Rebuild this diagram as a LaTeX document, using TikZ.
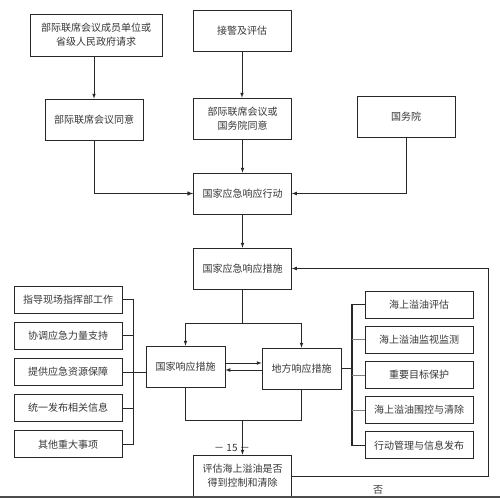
\documentclass[tikz,border=0pt]{standalone}
\usepackage{fontspec}
\usepackage{tikz}
\usetikzlibrary{positioning}
\newfontfamily\cjk{Noto Sans CJK SC}
\definecolor{myline}{RGB}{40,40,40}
\definecolor{mytext}{RGB}{55,55,55}

\begin{document}
\begin{tikzpicture}[x=1pt, y=-1pt, >=latex, line width=0.7pt, draw=myline,
    every node/.style={font=\cjk\fontsize{10}{14}\selectfont, text=mytext},
    box/.style={draw=myline, inner sep=0pt, align=center, minimum width=98pt, minimum height=41pt},
    item/.style={draw=myline, inner sep=0pt, minimum width=108pt, minimum height=27pt}]
    \useasboundingbox (0,0) rectangle (500,498);

    \node[box, minimum width=132pt, minimum height=42pt] (A) at (96,35) {部际联席会议成员单位或\\省级人民政府请求};
    \node[box] (B) at (242,30.5) {接警及评估};
    \node[box] (C) at (94,119.5) {部际联席会议同意};
    \node[box] (D) at (242.5,118.5) {部际联席会议或\\国务院同意};
    \node[box] (E) at (406,116.5) {国务院};
    \node[box] (F) at (242.5,193.5) {国家应急响应行动};
    \node[box] (G) at (242.5,268.5) {国家应急响应措施};
    \node[box, minimum width=79pt] (H) at (185.5,366.5) {国家响应措施};
    \node[box, minimum width=79pt] (I) at (301.5,368.5) {地方响应措施};
    \node[box, minimum height=42pt] (J) at (242.5,476) {评估海上溢油是否\\得到控制和清除};

    % national measures
    \node[item] (l1) at (68,299.5) {指导现场指挥部工作};
    \node[item, below=8.5pt of l1] (l2) {协调应急力量支持};
    \node[item, below=8.5pt of l2] (l3) {提供应急资源保障};
    \node[item, below=8.5pt of l3] (l4) {统一发布相关信息};
    \node[item, below=8.5pt of l4] (l5) {其他重大事项};

    % local measures
    \node[item] (r1) at (419,304.5) {海上溢油评估};
    \node[item, below=7.5pt of r1] (r2) {海上溢油监视监测};
    \node[item, below=7.5pt of r2] (r3) {重要目标保护};
    \node[item, below=7.5pt of r3] (r4) {海上溢油围控与清除};
    \node[item, below=7.5pt of r4] (r5) {行动管理与信息发布};

    \node (pg) at (232,448) {－ 15 －};
    \node (no) at (378,490) {否};

    \coordinate (lb) at (133,0);
    \coordinate (rb) at (352,0);
    \coordinate (gs) at (242.5,323);
    \coordinate (m) at (242.5,420);
    \coordinate (fb) at (488,0);

    \draw[->] (A.south -| C.north) -- (C.north);
    \draw[->] (B.south) -- (B.south |- D.north);
    \draw[->] (D.south) -- (F.north);
    \draw[->, line width=1pt] (C.south) |- (F.west);
    \draw[->] (E.south) |- (F.east);
    \draw[->] (F.south) -- (G.north);

    \draw (G.south) -- (gs);
    \draw[->] (gs) -| (H.north);
    \draw[->] (gs) -| (I.north);
    \draw[->] (H.east |- 0,363) -- (I.west |- 0,363);
    \draw[->] (I.west |- 0,370) -- (H.east |- 0,370);

    \draw (H.south) -- (H.south |- m) -- (I.south |- m) -- (I.south);
    \draw[->] (m) -- (J.north);
    \draw[->] (J.east) -| (fb |- G.east) -- (G.east);

    % brackets
    \draw (l1.east) -| (lb |- l5.east) -- (l5.east);
    \foreach \i in {2,3,4}
        \draw (l\i.east) -- (lb |- l\i.east);
    \draw (lb |- l3.east) -- (H.west |- l3.east);

    \draw[line width=1.2pt] (r1.west) -| (rb |- r5.west) -- (r5.west);
    \foreach \i in {2,3,4}
        \draw[gray] (r\i.west) -- (rb |- r\i.west);
    \draw (I.east) -- (rb |- I.east);

    \draw[line width=1.5pt, gray!60!black] (0,497) -- (500,497);
\end{tikzpicture}
\end{document}
